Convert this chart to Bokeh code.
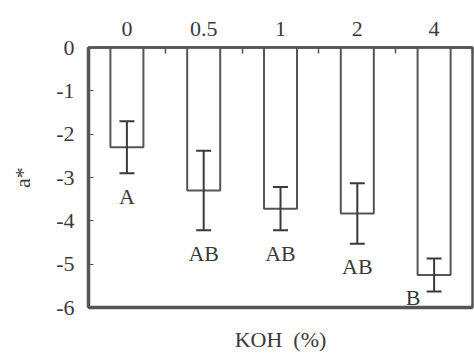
from bokeh.plotting import figure
from bokeh.models import (ColumnDataSource, Range1d, FixedTicker, LinearAxis,
                          Whisker, TeeHead)
from bokeh.embed import file_html
from bokeh.resources import INLINE

categories = ["0", "0.5", "1", "2", "4"]
a_star = [-2.30, -3.30, -3.72, -3.83, -5.25]
err = [0.60, 0.92, 0.50, 0.70, 0.38]
letters = ["A", "AB", "AB", "AB", "B"]
y_ticks = [0, -1, -2, -3, -4, -5, -6]

FONT = "Liberation Serif"
INK = "#3a3a3a"
LINE = "#555555"

xs = [i + 0.5 for i in range(len(categories))]
src = ColumnDataSource(dict(
    x=xs, top=[0] * len(xs), bottom=a_star,
    upper=[v + e for v, e in zip(a_star, err)],
    lower=[v - e for v, e in zip(a_star, err)],
    label=letters,
))

p = figure(width=474, height=356, output_backend="svg", toolbar_location=None,
           x_range=Range1d(0, len(categories)), y_range=Range1d(-6, 0),
           x_axis_location="above",
           min_border_left=88, min_border_right=2, min_border_top=47,
           min_border_bottom=49)
p.grid.visible = False
p.background_fill_color = "white"
p.outline_line_color = LINE
p.outline_line_width = 2.5

p.vbar(x="x", top="top", bottom="bottom", width=0.43, source=src,
       fill_color="white", line_color=LINE, line_width=2)

w = Whisker(base="x", upper="upper", lower="lower", source=src,
            line_color=INK, line_width=2, level="overlay",
            upper_head=TeeHead(size=15, line_color=INK, line_width=2),
            lower_head=TeeHead(size=15, line_color=INK, line_width=2))
p.add_layout(w)

# significance letters
n = len(categories) - 1
lx = xs[:n]
ly = [v - e for v, e in zip(a_star[:n], err[:n])]
p.text(x=lx, y=ly, text=letters[:n], text_align="center", text_baseline="middle",
       y_offset=23, text_font="Liberation Serif", text_font_size="22px",
       text_color=INK)
p.text(x=[xs[n]], y=[a_star[n] - err[n]], text=[letters[n]], text_align="center",
       text_baseline="middle", x_offset=-21, y_offset=6,
       text_font="Liberation Serif", text_font_size="22px", text_color=INK)

# top categorical axis
xa = p.xaxis[0]
xa.ticker = FixedTicker(ticks=xs, minor_ticks=list(range(len(categories) + 1)))
xa.major_label_overrides = {x: c for x, c in zip(xs, categories)}
xa.major_tick_in = 0
xa.major_tick_out = 0
xa.minor_tick_in = 6
xa.minor_tick_out = 0
xa.minor_tick_line_color = LINE
xa.minor_tick_line_width = 1.5
xa.axis_line_color = LINE
xa.axis_line_width = 2.5
xa.major_label_text_font = FONT
xa.major_label_text_font_size = "22px"
xa.major_label_text_color = INK
xa.major_label_standoff = 12

ya = p.yaxis[0]
ya.ticker = FixedTicker(ticks=y_ticks)
ya.major_label_overrides = {t: str(t) for t in y_ticks}
ya.major_tick_in = 5
ya.major_tick_out = 0
ya.minor_tick_line_color = None
ya.major_tick_line_color = LINE
ya.axis_line_color = LINE
ya.axis_line_width = 3.5
ya.major_label_text_font = FONT
ya.major_label_text_font_size = "22px"
ya.major_label_text_color = INK
ya.major_label_standoff = 14
ya.axis_label = "a*"
ya.axis_label_text_font = FONT
ya.axis_label_text_font_style = "normal"
ya.axis_label_text_font_size = "22px"
ya.axis_label_text_color = INK
ya.axis_label_standoff = 18

bx = LinearAxis(ticker=FixedTicker(ticks=[]), axis_label="KOH\u00a0\u00a0(%)")
bx.axis_line_color = LINE
bx.axis_line_width = 3.5
bx.major_tick_line_color = None
bx.minor_tick_line_color = None
bx.major_label_text_font_size = "0px"
bx.axis_label_text_font = FONT
bx.axis_label_text_font_style = "normal"
bx.axis_label_text_font_size = "22px"
bx.axis_label_text_color = INK
bx.axis_label_standoff = 19
p.add_layout(bx, "below")

open("out.html", "w").write(file_html(p, INLINE))
